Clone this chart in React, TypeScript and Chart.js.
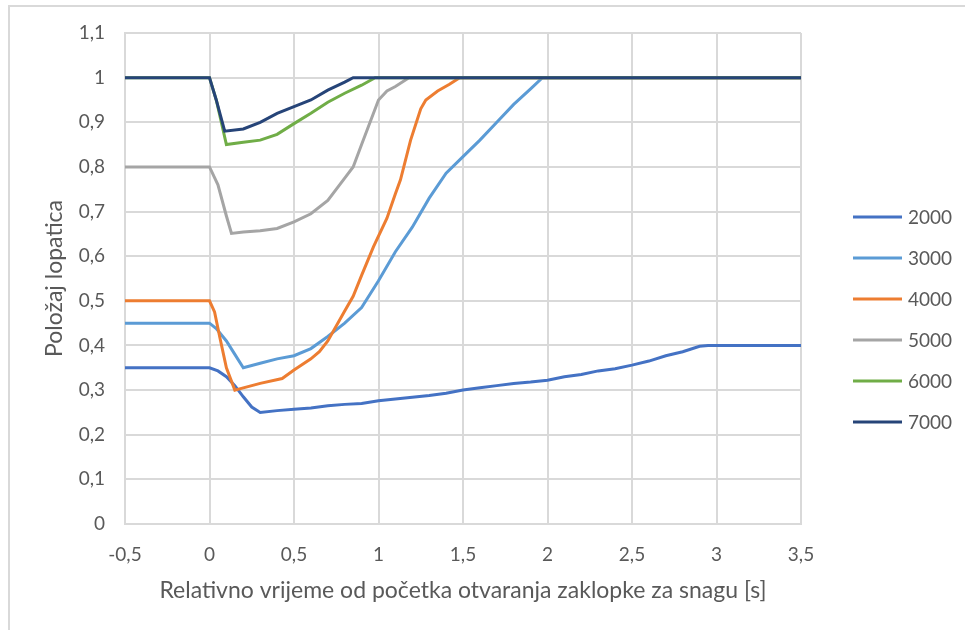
import React, { useEffect, useRef } from "react";
import { Chart, registerables } from "chart.js";

Chart.register(...registerables);

const seriesNames = ["2000", "3000", "4000", "5000", "6000", "7000"];
const seriesColors = ["#4472C4", "#5B9BD5", "#ED7D31", "#A5A5A5", "#70AD47", "#264478"];

const t2000 = [-0.5, 0, 0.05, 0.1, 0.15, 0.2, 0.25, 0.3, 0.4, 0.5, 0.6, 0.7, 0.8, 0.9, 1.0, 1.1, 1.2, 1.3, 1.4, 1.5, 1.6, 1.7, 1.8, 1.9, 2.0, 2.1, 2.2, 2.3, 2.4, 2.5, 2.6, 2.7, 2.8, 2.9, 2.95, 3.5];
const v2000 = [0.35, 0.35, 0.343, 0.33, 0.31, 0.285, 0.262, 0.25, 0.254, 0.257, 0.26, 0.265, 0.268, 0.27, 0.276, 0.28, 0.284, 0.288, 0.293, 0.3, 0.305, 0.31, 0.315, 0.318, 0.322, 0.33, 0.335, 0.343, 0.348, 0.356, 0.365, 0.377, 0.386, 0.398, 0.4, 0.4];

const t3000 = [-0.5, 0, 0.04, 0.1, 0.15, 0.2, 0.3, 0.4, 0.5, 0.6, 0.7, 0.8, 0.9, 1.0, 1.1, 1.2, 1.3, 1.4, 1.5, 1.6, 1.7, 1.8, 1.9, 1.97, 3.5];
const v3000 = [0.45, 0.45, 0.438, 0.41, 0.38, 0.35, 0.36, 0.37, 0.377, 0.393, 0.42, 0.45, 0.485, 0.545, 0.61, 0.665, 0.73, 0.786, 0.823, 0.86, 0.9, 0.94, 0.975, 1.0, 1.0];

const t4000 = [-0.5, 0, 0.03, 0.06, 0.1, 0.15, 0.2, 0.3, 0.43, 0.5, 0.6, 0.65, 0.7, 0.8, 0.85, 0.9, 0.97, 1.05, 1.1, 1.13, 1.19, 1.25, 1.28, 1.35, 1.42, 1.48, 3.5];
const v4000 = [0.5, 0.5, 0.475, 0.42, 0.35, 0.3, 0.305, 0.315, 0.326, 0.345, 0.37, 0.386, 0.41, 0.477, 0.51, 0.557, 0.621, 0.685, 0.74, 0.771, 0.86, 0.93, 0.95, 0.97, 0.985, 1.0, 1.0];

const t5000 = [-0.5, 0, 0.05, 0.1, 0.13, 0.2, 0.3, 0.4, 0.5, 0.6, 0.7, 0.8, 0.85, 0.9, 0.95, 1.0, 1.05, 1.1, 1.18, 3.5];
const v5000 = [0.8, 0.8, 0.76, 0.69, 0.651, 0.654, 0.657, 0.662, 0.677, 0.695, 0.725, 0.775, 0.8, 0.85, 0.9, 0.95, 0.97, 0.98, 1.0, 1.0];

const t6000 = [-0.5, 0, 0.04, 0.07, 0.1, 0.2, 0.3, 0.4, 0.5, 0.6, 0.7, 0.8, 0.9, 0.98, 3.5];
const v6000 = [1, 1, 0.95, 0.9, 0.85, 0.855, 0.86, 0.873, 0.897, 0.92, 0.945, 0.965, 0.983, 1.0, 1];

const t7000 = [-0.5, 0, 0.04, 0.09, 0.2, 0.3, 0.4, 0.5, 0.6, 0.7, 0.8, 0.85, 3.5];
const v7000 = [1, 1, 0.95, 0.88, 0.885, 0.9, 0.92, 0.935, 0.95, 0.972, 0.99, 1.0, 1];

const seriesT = [t2000, t3000, t4000, t5000, t6000, t7000];
const seriesV = [v2000, v3000, v4000, v5000, v6000, v7000];

const xTitle = "Relativno vrijeme od početka otvaranja zaklopke za snagu [s]";
const yTitle = "Položaj lopatica";

const FONT = "Lato, 'Open Sans', sans-serif";
const TEXT = "#595959";
const GRID = "#d9d9d9";

const fmt = (v: number) => String(Number(Number(v).toFixed(2))).replace(".", ",");

const legendPlugin = {
  id: "sideLegend",
  afterDraw(chart: any) {
    const { ctx, chartArea } = chart;
    const cy = (chartArea.top + chartArea.bottom) / 2 + 41;
    const x0 = chartArea.right + 52;
    ctx.save();
    chart.data.datasets.forEach((ds: any, i: number) => {
      const y = cy + (i - 2.5) * 41;
      ctx.strokeStyle = ds.borderColor;
      ctx.lineWidth = 3;
      ctx.beginPath();
      ctx.moveTo(x0, y);
      ctx.lineTo(x0 + 49, y);
      ctx.stroke();
      ctx.fillStyle = TEXT;
      ctx.font = `19px ${FONT}`;
      ctx.textBaseline = "middle";
      ctx.textAlign = "left";
      ctx.fillText(ds.label, x0 + 55, y + 1);
    });
    ctx.restore();
  },
};

export default function App() {
  const ref = useRef<HTMLCanvasElement | null>(null);
  useEffect(() => {
    if (!ref.current) return;
    const datasets = seriesNames.map((name, i) => ({
      label: name,
      data: seriesT[i].map((t, j) => ({ x: t, y: seriesV[i][j] })),
      borderColor: seriesColors[i],
      backgroundColor: seriesColors[i],
      borderWidth: 3,
      pointRadius: 0,
      tension: 0,
      fill: false,
      order: seriesNames.length - i,
    }));
    const chart = new Chart(ref.current, {
      type: "line",
      data: { datasets },
      plugins: [legendPlugin],
      options: {
        animation: false,
        responsive: false,
        maintainAspectRatio: false,
        layout: { padding: { left: 0, top: 33, right: 164, bottom: 0 } },
        plugins: { legend: { display: false }, tooltip: { enabled: false } },
        scales: {
          x: {
            type: "linear",
            min: -0.5,
            max: 3.5,
            afterFit: (s: any) => { s.height = 106; },
            ticks: { stepSize: 0.5, color: TEXT, font: { family: FONT, size: 19 }, padding: 19, callback: (v: any) => fmt(v) },
            grid: { color: GRID, lineWidth: 2, drawTicks: false },
            border: { color: GRID, width: 2 },
            title: { display: true, text: xTitle, color: TEXT, font: { family: FONT, size: 23 }, padding: { top: 0, bottom: 26 } },
          },
          y: {
            min: 0,
            max: 1.1,
            afterFit: (s: any) => { s.width = 125; },
            ticks: { stepSize: 0.1, color: TEXT, font: { family: FONT, size: 19 }, padding: 20, callback: (v: any) => fmt(v) },
            grid: { color: GRID, lineWidth: 2, drawTicks: false },
            border: { color: GRID, width: 2 },
            title: { display: true, text: yTitle, color: TEXT, font: { family: FONT, size: 23 }, padding: { top: 41, bottom: 0 } },
          },
        },
      },
    });
    return () => chart.destroy();
  }, []);
  return (
    <div style={{ position: "absolute", left: 0, top: 0, width: 965, height: 630, overflow: "hidden", background: "#fff" }}>
      <div style={{ position: "absolute", left: 8, top: 5, width: 1000, height: 700, borderTop: `2px solid ${GRID}`, borderLeft: `2px solid ${GRID}` }} />
      <canvas ref={ref} width={965} height={630} style={{ position: "absolute", left: 0, top: 0, width: 965, height: 630 }} />
    </div>
  );
}
